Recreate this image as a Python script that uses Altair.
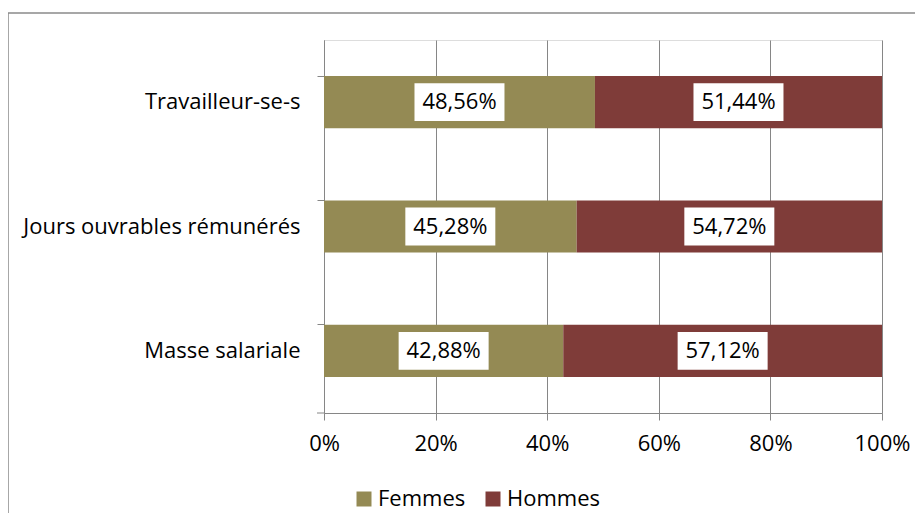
import altair as alt
import pandas as pd

categories = ["Travailleur-se-s", "Jours ouvrables rémunérés", "Masse salariale"]
femmes = [48.56, 45.28, 42.88]
hommes = [51.44, 54.72, 57.12]
series = ["Femmes", "Hommes"]
colors = ["#948A54", "#7F3C39"]
x_ticks = [0, 20, 40, 60, 80, 100]

FONT = "Open Sans"
FS = 22
GRAY = "#868686"


def fmt(v):
    return f"{v:.2f}%".replace(".", ",")


rows = []
for c, f, h in zip(categories, femmes, hommes):
    rows.append(dict(cat=c, serie="Femmes", start=0.0, end=f, mid=f / 2, label=fmt(f)))
    rows.append(dict(cat=c, serie="Hommes", start=f, end=f + h, mid=f + h / 2, label=fmt(h)))
df = pd.DataFrame(rows)

x_scale = alt.Scale(domain=[0, 100], nice=False, zero=True)
y_scale = alt.Scale(paddingInner=0.58, paddingOuter=0.29)

bars = alt.Chart(df).mark_bar().encode(
    x=alt.X(
        "start:Q",
        scale=x_scale,
        axis=alt.Axis(
            values=x_ticks,
            labelExpr="datum.value + '%'",
            title=None,
            grid=True,
            gridColor=GRAY,
            domainColor=GRAY,
            tickColor=GRAY,
            tickSize=7,
            labelPadding=13,
            labelFlush=False,
            labelFontSize=FS,
            labelFont=FONT,
            labelColor="black",
        ),
    ),
    x2="end:Q",
    y=alt.Y(
        "cat:N",
        sort=categories,
        scale=y_scale,
        axis=alt.Axis(
            title=None,
            bandPosition=0,
            tickSize=7,
            labelPadding=17,
            labelFontSize=FS,
            labelFont=FONT,
            labelColor="black",
            domainColor=GRAY,
            tickColor=GRAY,
            grid=False,
            labelLimit=400,
        ),
    ),
    color=alt.Color(
        "serie:N",
        scale=alt.Scale(domain=series, range=colors),
        legend=alt.Legend(
            title=None,
            orient="none",
            legendX=29,
            legendY=448,
            padding=0,
            direction="horizontal",
            symbolType="square",
            symbolSize=225,
            symbolStrokeWidth=0,
            labelFontSize=FS,
            labelFont=FONT,
            labelColor="black",
            columnPadding=16,
            labelOffset=3,
        ),
    ),
    order=alt.Order("start:Q"),
)

box_path = "M-1,-0.42H1V0.42H-1Z"
boxes = alt.Chart(df).mark_point(
    shape=box_path, size=8100, filled=True, fill="white", opacity=1, strokeWidth=0
).encode(
    x=alt.X("mid:Q", scale=x_scale),
    y=alt.Y("cat:N", sort=categories, scale=y_scale),
)

labels = alt.Chart(df).mark_text(fontSize=FS, font=FONT, color="black").encode(
    x=alt.X("mid:Q", scale=x_scale),
    y=alt.Y("cat:N", sort=categories, scale=y_scale),
    text="label:N",
)

one = alt.Data(values=[{"k": 1}])
frame_top = alt.Chart(one).mark_rule(color="#8A8A8A", strokeWidth=1.5).encode(
    x=alt.value(-316), x2=alt.value(700), y=alt.value(-27)
)
frame_left = alt.Chart(one).mark_rule(color="#8A8A8A", strokeWidth=1.5).encode(
    x=alt.value(-316), y=alt.value(-27), y2=alt.value(600)
)
bottom_tick = alt.Chart(one).mark_rule(color=GRAY, strokeWidth=1).encode(
    x=alt.value(-7), x2=alt.value(0), y=alt.value(373)
)

chart = (
    alt.layer(frame_top, frame_left, bars, boxes, labels, bottom_tick)
    .properties(
        width=558,
        height=373,
        autosize=alt.AutoSizeParams(type="none"),
        padding={"left": 316, "top": 32, "right": 33, "bottom": 100},
    )
    .configure_view(stroke=None)
    .configure(background="white")
)

chart.save("out.html", embed_options={"renderer": "svg", "actions": False})
